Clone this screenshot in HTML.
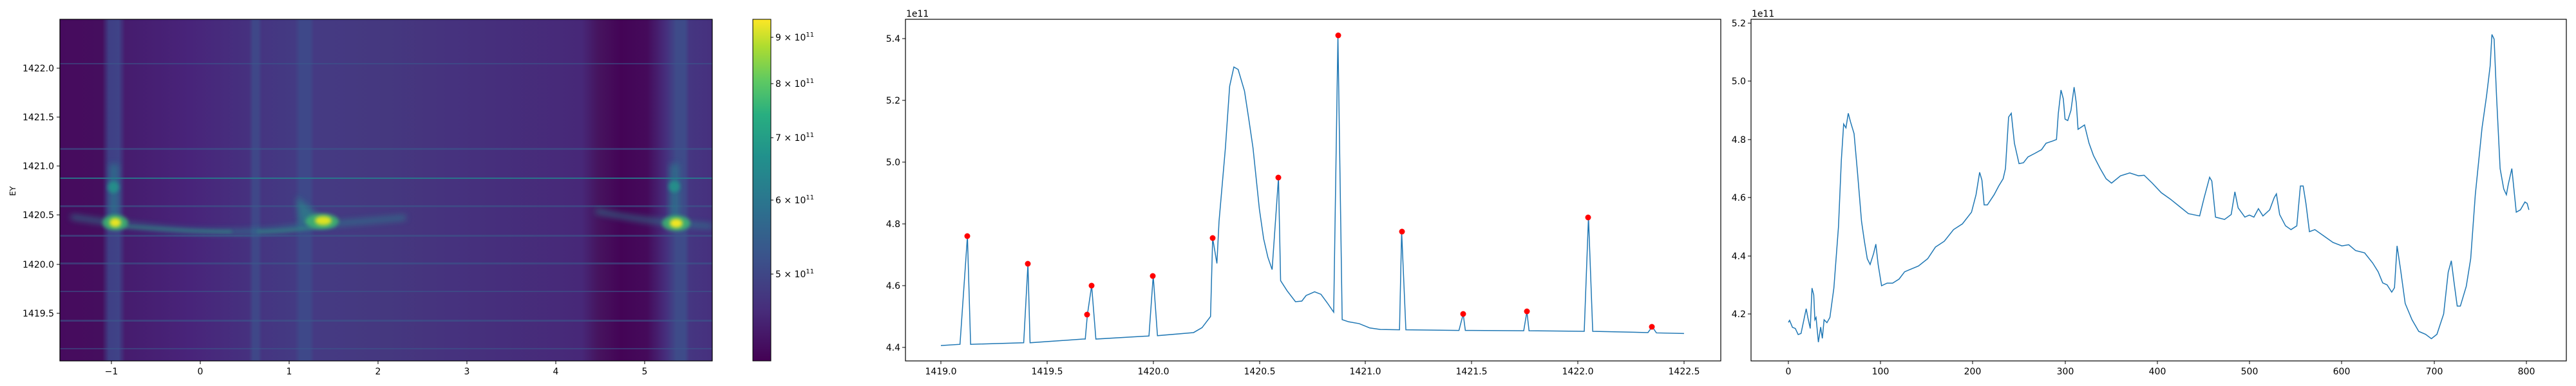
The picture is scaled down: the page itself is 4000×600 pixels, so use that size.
<!DOCTYPE html>
<html><head><meta charset="utf-8"><style>
html,body{margin:0;padding:0;background:#fff;}
svg{display:block;}
text{font-family:"DejaVu Sans","Liberation Sans",sans-serif;font-size:14px;fill:#000;}
</style></head><body>
<svg width="4000" height="600" viewBox="0 0 4000 600" xmlns="http://www.w3.org/2000/svg">
<defs>
<linearGradient id="bg" x1="0" x2="1" y1="0" y2="0">
<stop offset="0" stop-color="#460b5e"/>
<stop offset="0.065" stop-color="#450e5e"/>
<stop offset="0.075" stop-color="#3f3f85"/>
<stop offset="0.09" stop-color="#3f4387"/>
<stop offset="0.10" stop-color="#461c6e"/>
<stop offset="0.2" stop-color="#48247a"/>
<stop offset="0.29" stop-color="#46317f"/>
<stop offset="0.296" stop-color="#3f4788"/>
<stop offset="0.304" stop-color="#3f4788"/>
<stop offset="0.31" stop-color="#453581"/>
<stop offset="0.36" stop-color="#443a83"/>
<stop offset="0.368" stop-color="#3e4889"/>
<stop offset="0.383" stop-color="#3e4889"/>
<stop offset="0.39" stop-color="#453a83"/>
<stop offset="0.5" stop-color="#45387f"/>
<stop offset="0.6" stop-color="#46327e"/>
<stop offset="0.8" stop-color="#472878"/>
<stop offset="0.825" stop-color="#46145f"/>
<stop offset="0.86" stop-color="#440456"/>
<stop offset="0.9" stop-color="#450a5b"/>
<stop offset="0.93" stop-color="#46307e"/>
<stop offset="0.945" stop-color="#3e4b89"/>
<stop offset="0.958" stop-color="#3e4b89"/>
<stop offset="0.965" stop-color="#453681"/>
<stop offset="1" stop-color="#46307e"/>
</linearGradient>
<linearGradient id="cb" x1="0" x2="0" y1="1" y2="0">
<stop offset="0" stop-color="#440154"/>
<stop offset="0.15" stop-color="#472d7b"/>
<stop offset="0.3" stop-color="#3b528b"/>
<stop offset="0.45" stop-color="#2c728e"/>
<stop offset="0.6" stop-color="#21918c"/>
<stop offset="0.72" stop-color="#28ae80"/>
<stop offset="0.82" stop-color="#5ec962"/>
<stop offset="0.92" stop-color="#addc30"/>
<stop offset="1" stop-color="#fde725"/>
</linearGradient>
<filter id="bl" x="-50%" y="-50%" width="200%" height="200%"><feGaussianBlur stdDeviation="5"/></filter>
<filter id="bl2" x="-50%" y="-50%" width="200%" height="200%"><feGaussianBlur stdDeviation="3"/></filter>
<clipPath id="c1"><rect x="93" y="30" width="1013" height="531"/></clipPath>
</defs>

<!-- Panel 1 heatmap -->
<g clip-path="url(#c1)">
<rect x="93" y="30" width="1013" height="531" fill="url(#bg)"/>
<g fill="#3b5a8c" opacity="0.55">
<rect x="93" y="98" width="1013" height="2"/>
<rect x="93" y="230" width="1013" height="3"/>
<rect x="93" y="319" width="1013" height="3"/>
<rect x="93" y="365" width="1013" height="3"/>
<rect x="93" y="408" width="1013" height="3"/>
<rect x="93" y="452" width="1013" height="2"/>
<rect x="93" y="497" width="1013" height="3"/>
<rect x="93" y="541" width="1013" height="2"/>
</g>
<rect x="93" y="276" width="1013" height="2" fill="#26808e" opacity="0.85"/>
<!-- arcs -->
<path d="M110,337 C160,345 200,350 260,356 C320,362 400,362 450,355 C500,348 560,345 630,338" stroke="#2a7f8e" stroke-width="7" fill="none" filter="url(#bl)" opacity="0.75"/>
<path d="M190,352 C240,355 300,360 360,360" stroke="#2ea07e" stroke-width="3" fill="none" filter="url(#bl2)" opacity="0.7"/>
<path d="M400,360 C440,360 470,356 520,350" stroke="#2ea07e" stroke-width="3" fill="none" filter="url(#bl2)" opacity="0.7"/>
<path d="M925,328 C980,340 1020,345 1106,352" stroke="#2a7f8e" stroke-width="7" fill="none" filter="url(#bl)" opacity="0.75"/>
<path d="M1060,352 L1106,352" stroke="#2ea07e" stroke-width="5" fill="none" filter="url(#bl2)" opacity="0.8"/>
<rect x="170" y="255" width="14" height="90" fill="#26828e" filter="url(#bl)" opacity="0.6"/>
<ellipse cx="176" cy="291" rx="9" ry="9" fill="#23988a" filter="url(#bl2)" opacity="0.8"/>
<rect x="1040" y="255" width="14" height="90" fill="#26828e" filter="url(#bl)" opacity="0.6"/>
<ellipse cx="1047" cy="290" rx="9" ry="9" fill="#23988a" filter="url(#bl2)" opacity="0.8"/>
<path d="M460,305 L495,335 L465,352 Z" fill="#26908a" filter="url(#bl)" opacity="0.6"/>
<ellipse cx="179" cy="346" rx="20" ry="12" fill="#3cb870" filter="url(#bl2)" opacity="0.85"/>
<ellipse cx="179" cy="346" rx="9" ry="7" fill="#e8e420" filter="url(#bl2)"/>
<ellipse cx="500" cy="344" rx="26" ry="12" fill="#3cb870" filter="url(#bl2)" opacity="0.85"/>
<ellipse cx="502" cy="343" rx="13" ry="7" fill="#dde224" filter="url(#bl2)"/>
<ellipse cx="1050" cy="347" rx="22" ry="12" fill="#3cb870" filter="url(#bl2)" opacity="0.85"/>
<ellipse cx="1050" cy="347" rx="10" ry="7" fill="#f2e620" filter="url(#bl2)"/>
</g>
<rect x="93" y="30" width="1013" height="531" fill="none" stroke="#000" stroke-width="1.2"/>
<g stroke="#000" stroke-width="1">
<line x1="173" y1="561" x2="173" y2="566"/><line x1="311" y1="561" x2="311" y2="566"/><line x1="449" y1="561" x2="449" y2="566"/><line x1="587" y1="561" x2="587" y2="566"/><line x1="725" y1="561" x2="725" y2="566"/><line x1="863" y1="561" x2="863" y2="566"/><line x1="1001" y1="561" x2="1001" y2="566"/>
<line x1="88" y1="106" x2="93" y2="106"/><line x1="88" y1="182" x2="93" y2="182"/><line x1="88" y1="258" x2="93" y2="258"/><line x1="88" y1="334" x2="93" y2="334"/><line x1="88" y1="411" x2="93" y2="411"/><line x1="88" y1="487" x2="93" y2="487"/>
</g>
<g text-anchor="middle">
<text x="173" y="582">−1</text><text x="311" y="582">0</text><text x="449" y="582">1</text><text x="587" y="582">2</text><text x="725" y="582">3</text><text x="863" y="582">4</text><text x="1001" y="582">5</text>
</g>
<g text-anchor="end">
<text x="84" y="111">1422.0</text><text x="84" y="187">1421.5</text><text x="84" y="263">1421.0</text><text x="84" y="339">1420.5</text><text x="84" y="416">1420.0</text><text x="84" y="492">1419.5</text>
</g>
<text x="0" y="0" text-anchor="middle" transform="translate(24,297) rotate(-90)" style="font-size:12px">EY</text>

<!-- Colorbar -->
<rect x="1169" y="30" width="28" height="531" fill="url(#cb)" stroke="#000" stroke-width="1"/>
<g stroke="#000"><line x1="1197" y1="58" x2="1201" y2="58"/><line x1="1197" y1="130" x2="1201" y2="130"/><line x1="1197" y1="214" x2="1201" y2="214"/><line x1="1197" y1="311" x2="1201" y2="311"/><line x1="1197" y1="426" x2="1201" y2="426"/></g>
<g>
<text x="1204" y="63">9 × 10<tspan dy="-6" style="font-size:10px">11</tspan></text>
<text x="1204" y="135">8 × 10<tspan dy="-6" style="font-size:10px">11</tspan></text>
<text x="1204" y="219">7 × 10<tspan dy="-6" style="font-size:10px">11</tspan></text>
<text x="1204" y="316">6 × 10<tspan dy="-6" style="font-size:10px">11</tspan></text>
<text x="1204" y="431">5 × 10<tspan dy="-6" style="font-size:10px">11</tspan></text>
</g>

<!-- Panel 2 -->
<rect x="1406" y="30" width="1266" height="531" fill="none" stroke="#000" stroke-width="1.2"/>
<text x="1407" y="26">1e11</text>
<g transform="translate(1461,540) scale(329.7,-480)">
<polyline fill="none" stroke="#1f77b4" stroke-width="1.5" vector-effect="non-scaling-stroke" points="0,0.006 0.09,0.01 0.125,0.36 0.14,0.01 0.39,0.015 0.41,0.27 0.42,0.015 0.67,0.027 0.68,0.027 0.69,0.106 0.71,0.20 0.73,0.027 0.98,0.037 1.0,0.232 1.02,0.038 1.19,0.048 1.23,0.064 1.27,0.10 1.28,0.354 1.30,0.272 1.31,0.408 1.34,0.646 1.36,0.846 1.38,0.908 1.40,0.90 1.43,0.83 1.45,0.74 1.47,0.646 1.50,0.448 1.52,0.352 1.54,0.292 1.56,0.252 1.59,0.55 1.60,0.216 1.63,0.184 1.67,0.148 1.70,0.15 1.72,0.168 1.76,0.18 1.79,0.172 1.82,0.144 1.85,0.114 1.87,1.01 1.89,0.09 1.92,0.083 1.97,0.077 2.02,0.063 2.07,0.058 2.16,0.057 2.17,0.376 2.19,0.057 2.44,0.055 2.46,0.108 2.47,0.055 2.745,0.054 2.76,0.116 2.77,0.054 3.03,0.052 3.05,0.422 3.07,0.052 3.33,0.048 3.35,0.067 3.37,0.047 3.5,0.045"/>
</g>
<g fill="#ff0000">
<circle cx="1502" cy="367" r="4.5"/><circle cx="1596" cy="410" r="4.5"/><circle cx="1688" cy="489" r="4.5"/><circle cx="1695" cy="444" r="4.5"/><circle cx="1790" cy="429" r="4.5"/><circle cx="1883" cy="370" r="4.5"/><circle cx="1985" cy="276" r="4.5"/><circle cx="2078" cy="55" r="4.5"/><circle cx="2177" cy="360" r="4.5"/><circle cx="2272" cy="488" r="4.5"/><circle cx="2371" cy="484" r="4.5"/><circle cx="2466" cy="338" r="4.5"/><circle cx="2565" cy="508" r="4.5"/>
</g>
<g stroke="#000">
<line x1="1461" y1="561" x2="1461" y2="566"/><line x1="1626" y1="561" x2="1626" y2="566"/><line x1="1791" y1="561" x2="1791" y2="566"/><line x1="1956" y1="561" x2="1956" y2="566"/><line x1="2120" y1="561" x2="2120" y2="566"/><line x1="2285" y1="561" x2="2285" y2="566"/><line x1="2450" y1="561" x2="2450" y2="566"/><line x1="2615" y1="561" x2="2615" y2="566"/>
<line x1="1401" y1="60" x2="1406" y2="60"/><line x1="1401" y1="156" x2="1406" y2="156"/><line x1="1401" y1="252" x2="1406" y2="252"/><line x1="1401" y1="348" x2="1406" y2="348"/><line x1="1401" y1="444" x2="1406" y2="444"/><line x1="1401" y1="540" x2="1406" y2="540"/>
</g>
<g text-anchor="middle">
<text x="1461" y="582">1419.0</text><text x="1626" y="582">1419.5</text><text x="1791" y="582">1420.0</text><text x="1956" y="582">1420.5</text><text x="2120" y="582">1421.0</text><text x="2285" y="582">1421.5</text><text x="2450" y="582">1422.0</text><text x="2615" y="582">1422.5</text>
</g>
<g text-anchor="end">
<text x="1398" y="65">5.4</text><text x="1398" y="161">5.2</text><text x="1398" y="257">5.0</text><text x="1398" y="353">4.8</text><text x="1398" y="449">4.6</text><text x="1398" y="545">4.4</text>
</g>

<!-- Panel 3 -->
<rect x="2719" y="30" width="1266" height="531" fill="none" stroke="#000" stroke-width="1.2"/>
<text x="2720" y="26">1e11</text>
<g transform="translate(2777,488) scale(1.4325,-452)">
<polyline fill="none" stroke="#1f77b4" stroke-width="1.5" vector-effect="non-scaling-stroke" points="0,-0.029 1.3,-0.022 4.4,-0.046 7.5,-0.05 10.6,-0.071 13.7,-0.067 16.8,-0.02 19.3,0.018 21.2,-0.014 23.7,-0.05 25.6,0.089 27.5,0.065 28.7,-0.02 30,-0.012 32.5,-0.097 35,-0.045 36.8,-0.084 38.7,-0.02 41.8,-0.03 45,-0.012 49.3,0.089 54.3,0.30 57.4,0.529 59.9,0.653 62.4,0.64 64.9,0.69 67.4,0.66 71.2,0.62 74.9,0.487 79.3,0.318 82.4,0.25 85.5,0.19 88.6,0.17 92.4,0.208 94.8,0.24 97.3,0.17 101,0.097 107,0.106 113,0.106 120,0.12 126,0.145 132,0.153 141,0.165 151,0.19 159.4,0.23 169,0.25 179,0.29 188.7,0.31 198.5,0.35 203.4,0.41 207.3,0.487 209.8,0.46 212.2,0.375 215.7,0.375 223,0.41 228,0.44 232.8,0.465 235.3,0.50 238.7,0.677 241.6,0.69 245,0.587 250,0.517 254.8,0.52 259.7,0.54 267,0.552 274.4,0.565 279.3,0.587 286.7,0.595 290.6,0.60 292.6,0.69 295.5,0.77 298,0.74 299.9,0.67 302.8,0.665 306.3,0.70 309.7,0.78 312.1,0.725 314,0.635 321,0.65 325.9,0.587 330.7,0.545 338,0.50 344.4,0.465 350.3,0.45 360,0.475 370,0.485 379.7,0.475 385.6,0.477 394.4,0.45 404.2,0.417 414,0.395 423.8,0.37 433.6,0.345 445.8,0.337 450.7,0.40 456.6,0.47 459,0.457 463,0.333 472.8,0.325 480,0.342 484,0.42 487.5,0.365 494.8,0.333 499.7,0.34 504.6,0.333 509.5,0.362 514.4,0.337 521.7,0.358 526.6,0.40 529,0.413 532.5,0.342 538.9,0.303 544.8,0.29 551.1,0.303 555,0.44 558,0.44 561,0.38 564.8,0.283 570.7,0.29 580.5,0.268 590.3,0.246 600,0.234 607.4,0.238 614.8,0.218 624.6,0.21 633.4,0.175 639.3,0.145 644.2,0.107 649,0.10 654,0.075 657,0.09 659.8,0.234 663.7,0.15 668.6,0.036 676,-0.02 683.3,-0.06 690.7,-0.07 697,-0.085 703,-0.07 710.3,0 715.2,0.143 718.6,0.183 721.5,0.11 725,0.027 728.4,0.027 734.8,0.095 739.6,0.19 744.6,0.41 751.9,0.64 756.8,0.75 760.7,0.853 762.6,0.961 765,0.945 767.6,0.75 771.5,0.50 775.4,0.43 778.3,0.41 780.3,0.445 784.2,0.50 789,0.35 793.5,0.358 798.4,0.385 800.8,0.38 802.7,0.358"/>
</g>
<g stroke="#000">
<line x1="2777" y1="561" x2="2777" y2="566"/><line x1="2920" y1="561" x2="2920" y2="566"/><line x1="3063" y1="561" x2="3063" y2="566"/><line x1="3207" y1="561" x2="3207" y2="566"/><line x1="3350" y1="561" x2="3350" y2="566"/><line x1="3493" y1="561" x2="3493" y2="566"/><line x1="3636" y1="561" x2="3636" y2="566"/><line x1="3780" y1="561" x2="3780" y2="566"/><line x1="3923" y1="561" x2="3923" y2="566"/>
<line x1="2714" y1="36" x2="2719" y2="36"/><line x1="2714" y1="126" x2="2719" y2="126"/><line x1="2714" y1="217" x2="2719" y2="217"/><line x1="2714" y1="307" x2="2719" y2="307"/><line x1="2714" y1="398" x2="2719" y2="398"/><line x1="2714" y1="488" x2="2719" y2="488"/>
</g>
<g text-anchor="middle">
<text x="2777" y="582">0</text><text x="2920" y="582">100</text><text x="3063" y="582">200</text><text x="3207" y="582">300</text><text x="3350" y="582">400</text><text x="3493" y="582">500</text><text x="3636" y="582">600</text><text x="3780" y="582">700</text><text x="3923" y="582">800</text>
</g>
<g text-anchor="end">
<text x="2711" y="41">5.2</text><text x="2711" y="131">5.0</text><text x="2711" y="222">4.8</text><text x="2711" y="312">4.6</text><text x="2711" y="403">4.4</text><text x="2711" y="493">4.2</text>
</g>
</svg>
</body></html>
